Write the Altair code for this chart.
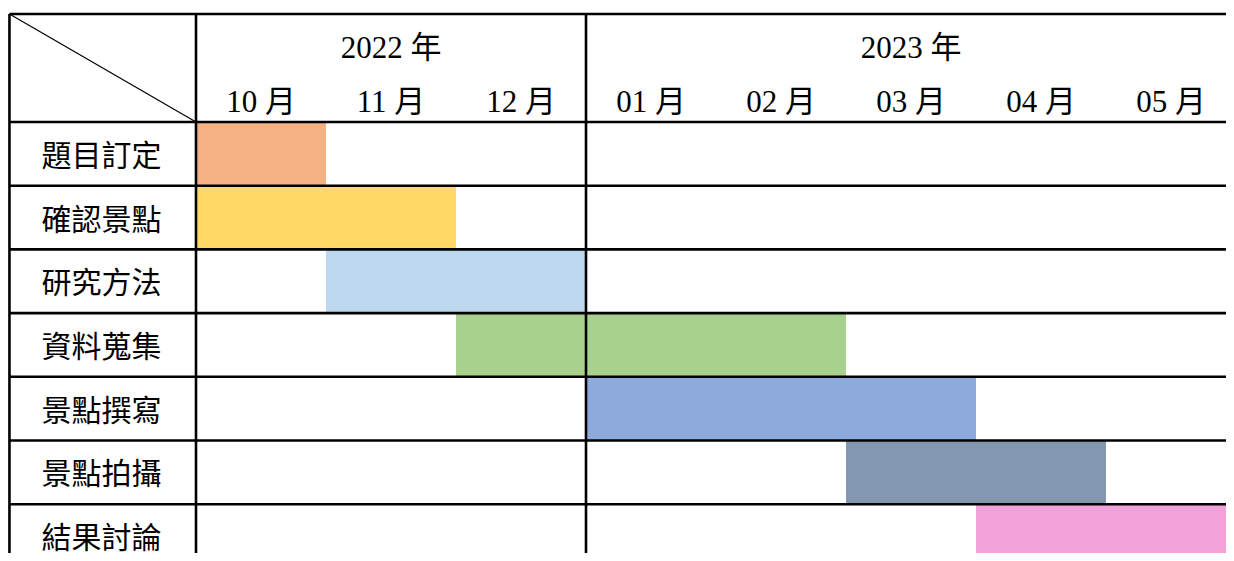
import altair as alt
import pandas as pd

# ---- data ----
tasks = ["題目訂定", "確認景點", "研究方法", "資料蒐集", "景點撰寫", "景點拍攝", "結果討論"]
task_start = [0, 0, 1, 2, 3, 5, 6]   # month index (0 = 2022-10)
task_end = [1, 2, 3, 5, 6, 7, 8]
task_colors = ["#F4B183", "#FFD966", "#BDD7EE", "#A9D18E", "#8EA9DB", "#8497B0", "#F2A2D8"]
months = ["10 月", "11 月", "12 月", "01 月", "02 月", "03 月", "04 月", "05 月"]
years = ["2022 年", "2023 年"]
year_start = [0, 3]
year_end = [3, 8]

# ---- layout (in month / row units) ----
COL_PX = 130.0
ROW_PX = 63.7
LABEL_W = 189.0 / COL_PX       # width of the task-label column
HEADER_H = 108.0 / ROW_PX      # height of header row
X_MIN = (8 - 196) / COL_PX
X_MAX = (1226 - 196) / COL_PX
Y_MIN = (8 - 122) / ROW_PX
Y_MAX = (553 - 122) / ROW_PX
LEFT = -1.435
TOP = -HEADER_H
NROWS = len(tasks)
NMON = len(months)

xs = alt.Scale(domain=[X_MIN, X_MAX], nice=False, zero=False)
ys = alt.Scale(domain=[Y_MIN, Y_MAX], nice=False, zero=False, reverse=True)
FONT = "Liberation Serif, Noto Sans CJK TC, serif"

bars = pd.DataFrame({
    "task": tasks, "s": task_start, "e": task_end, "c": task_colors,
    "r0": list(range(NROWS)), "r1": [i + 1 for i in range(NROWS)],
})
bar_layer = alt.Chart(bars).mark_rect(stroke=None).encode(
    x=alt.X("s:Q", scale=xs, axis=None), x2="e",
    y=alt.Y("r0:Q", scale=ys, axis=None), y2="r1",
    color=alt.Color("c:N", scale=None),
)

hl = pd.DataFrame({"y": [TOP] + list(range(NROWS + 1))})
hl["x0"] = LEFT
hl["x1"] = NMON
h_layer = alt.Chart(hl).mark_rule(color="black", strokeWidth=2.6).encode(
    x=alt.X("x0:Q", scale=xs, axis=None), x2="x1",
    y=alt.Y("y:Q", scale=ys, axis=None),
)

vl = pd.DataFrame({"x": [LEFT, 0, year_start[1]]})
vl["y0"] = TOP
vl["y1"] = NROWS
v_layer = alt.Chart(vl).mark_rule(color="black", strokeWidth=2.6).encode(
    x=alt.X("x:Q", scale=xs, axis=None),
    y=alt.Y("y0:Q", scale=ys, axis=None), y2="y1",
)

dg = pd.DataFrame({"x0": [LEFT], "y0": [TOP], "x1": [0], "y1": [0]})
d_layer = alt.Chart(dg).mark_rule(color="black", strokeWidth=1.2).encode(
    x=alt.X("x0:Q", scale=xs, axis=None), x2="x1",
    y=alt.Y("y0:Q", scale=ys, axis=None), y2="y1",
)

tl = pd.DataFrame({"t": tasks, "y": [i + 0.5 for i in range(NROWS)]})
tl["x"] = -LABEL_W / 2
t_layer = alt.Chart(tl).mark_text(font=FONT, fontSize=30, color="black", baseline="alphabetic", dy=12).encode(
    x=alt.X("x:Q", scale=xs, axis=None),
    y=alt.Y("y:Q", scale=ys, axis=None),
    text="t:N",
)

ml = pd.DataFrame({"t": months, "x": [i + 0.5 for i in range(NMON)]})
ml["y"] = TOP + HEADER_H * 0.907
m_layer = alt.Chart(ml).mark_text(font=FONT, fontSize=31, color="black", baseline="alphabetic").encode(
    x=alt.X("x:Q", scale=xs, axis=None),
    y=alt.Y("y:Q", scale=ys, axis=None),
    text="t:N",
)

yl = pd.DataFrame({"t": years, "x": [(a + b) / 2 for a, b in zip(year_start, year_end)]})
yl["y"] = TOP + HEADER_H * 0.403
y_layer = alt.Chart(yl).mark_text(font=FONT, fontSize=31, color="black", baseline="alphabetic").encode(
    x=alt.X("x:Q", scale=xs, axis=None),
    y=alt.Y("y:Q", scale=ys, axis=None),
    text="t:N",
)

chart = alt.layer(bar_layer, h_layer, v_layer, d_layer, t_layer, m_layer, y_layer).properties(
    width=1218, height=545,
    autosize=alt.AutoSizeParams(type="none"),
    padding=0,
    background="white",
).configure_view(stroke=None)

chart.save("out.html", embed_options={"renderer": "svg", "actions": False})
